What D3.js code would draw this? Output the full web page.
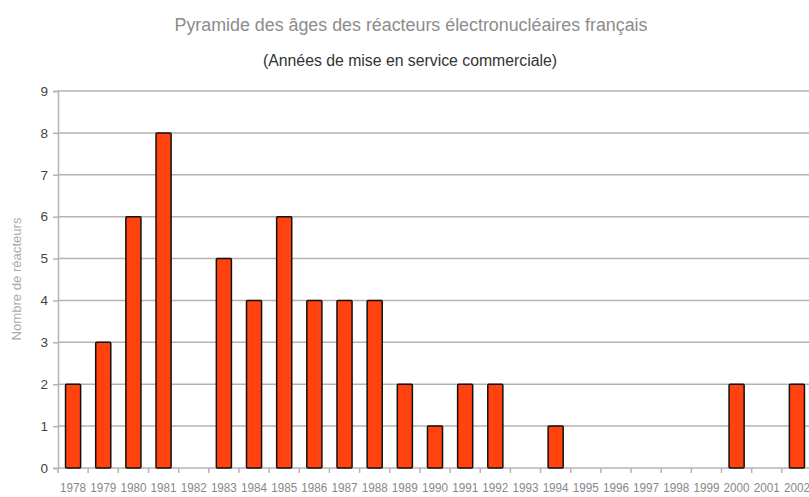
<!DOCTYPE html>
<html>
<head>
<meta charset="utf-8">
<script src="https://cdn.jsdelivr.net/npm/d3@7"></script>
<style>
  body { margin: 0; background: #fff; }
  text { font-family: "Liberation Sans", Arial, sans-serif; }
</style>
</head>
<body>
<div id="chart"></div>
<script>
var svgWidth = 809;
var svgHeight = 497;

var margin = { top: 91, right: -3, bottom: 29, left: 58 };
var width = svgWidth - margin.left - margin.right;
var height = svgHeight - margin.top - margin.bottom;

// data
var years = ["1978", "1979", "1980", "1981", "1982", "1983", "1984", "1985", "1986", "1987",
             "1988", "1989", "1990", "1991", "1992", "1993", "1994", "1995", "1996", "1997",
             "1998", "1999", "2000", "2001", "2002"];
var reactors = [2, 3, 6, 8, 0, 5, 4, 6, 4, 4, 4, 2, 1, 2, 2, 0, 1, 0, 0, 0, 0, 0, 2, 0, 2];
var yTicks = [0, 1, 2, 3, 4, 5, 6, 7, 8, 9];

var svg = d3.select("#chart")
  .append("svg")
  .attr("width", svgWidth)
  .attr("height", svgHeight);

var chartGroup = svg.append("g")
  .attr("transform", `translate(${margin.left}, ${margin.top})`);

var xBandScale = d3.scaleBand()
  .domain(years)
  .range([0, width])
  .paddingInner(0.5)
  .paddingOuter(0.25);

var yLinearScale = d3.scaleLinear()
  .domain([0, 9])
  .range([height, 0]);

// gridlines
chartGroup.append("g")
  .selectAll("line")
  .data(yTicks.slice(1))
  .enter()
  .append("line")
  .attr("x1", 0)
  .attr("x2", width)
  .attr("y1", d => yLinearScale(d))
  .attr("y2", d => yLinearScale(d))
  .attr("stroke", "#b3b3b3")
  .attr("stroke-width", 1.5);

// y axis
var leftAxis = d3.axisLeft(yLinearScale).tickValues(yTicks).tickSize(5).tickPadding(5);
var yAxis = chartGroup.append("g").call(leftAxis);
yAxis.select(".domain").attr("stroke", "#b3b3b3").attr("stroke-width", 1.5);
yAxis.selectAll(".tick line").attr("stroke", "#b3b3b3").attr("stroke-width", 1.5);
yAxis.selectAll(".tick text")
  .attr("fill", "#444")
  .style("font-size", "13.5px")
  .style("font-family", "Liberation Sans, Arial, sans-serif");

// x axis: ticks at band boundaries
var step = xBandScale.step();
var bounds = years.map((y, i) => i * step);
chartGroup.append("line")
  .attr("x1", 0).attr("x2", width)
  .attr("y1", height).attr("y2", height)
  .attr("stroke", "#b3b3b3").attr("stroke-width", 1.5);
chartGroup.append("g")
  .selectAll("line")
  .data(bounds)
  .enter()
  .append("line")
  .attr("x1", d => d).attr("x2", d => d)
  .attr("y1", height).attr("y2", height + 5)
  .attr("stroke", "#b3b3b3").attr("stroke-width", 1.5);

chartGroup.append("g")
  .selectAll("text")
  .data(years)
  .enter()
  .append("text")
  .attr("x", d => xBandScale(d) + xBandScale.bandwidth() / 2)
  .attr("y", height + 24)
  .attr("text-anchor", "middle")
  .attr("fill", "#888")
  .attr("textLength", 26)
  .attr("lengthAdjust", "spacingAndGlyphs")
  .style("font-size", "12.5px")
  .text(d => d);

// bars
var barData = years.map((y, i) => ({ year: y, value: reactors[i] })).filter(d => d.value > 0);

chartGroup.append("g")
  .selectAll("rect")
  .data(barData)
  .enter()
  .append("rect")
  .attr("x", d => xBandScale(d.year))
  .attr("width", xBandScale.bandwidth())
  .attr("y", d => yLinearScale(d.value))
  .attr("height", d => height - yLinearScale(d.value))
  .attr("fill", "#ff420e")
  .attr("stroke", "#111")
  .attr("stroke-width", 1.5)
  .attr("rx", 1);

// titles
svg.append("text")
  .attr("x", 411)
  .attr("y", 31)
  .attr("text-anchor", "middle")
  .attr("fill", "#8c8c8c")
  .attr("textLength", 473)
  .attr("lengthAdjust", "spacingAndGlyphs")
  .style("font-size", "18px")
  .text("Pyramide des âges des réacteurs électronucléaires français");

svg.append("text")
  .attr("x", 410)
  .attr("y", 66)
  .attr("text-anchor", "middle")
  .attr("fill", "#333")
  .attr("textLength", 294)
  .attr("lengthAdjust", "spacingAndGlyphs")
  .style("font-size", "16px")
  .text("(Années de mise en service commerciale)");

svg.append("text")
  .attr("transform", "translate(21, 279) rotate(-90)")
  .attr("text-anchor", "middle")
  .attr("fill", "#aaa")
  .attr("textLength", 123)
  .attr("lengthAdjust", "spacingAndGlyphs")
  .style("font-size", "12.5px")
  .text("Nombre de réacteurs");
</script>
</body>
</html>
